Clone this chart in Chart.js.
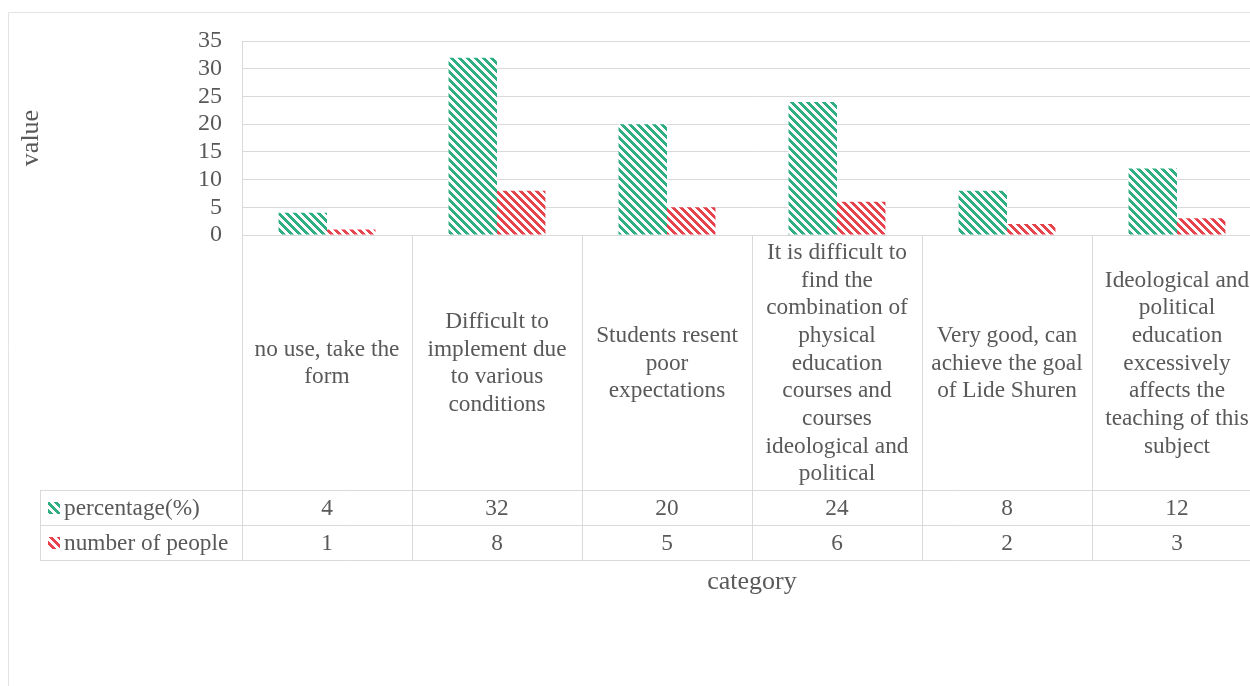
<!DOCTYPE html>
<html>
<head>
<meta charset="utf-8">
<script src="https://cdn.jsdelivr.net/npm/chart.js@4.4.1/dist/chart.umd.min.js"></script>
<style>
html,body{margin:0;padding:0;background:#fff;overflow:hidden;width:1250px;height:686px;}
#c{position:absolute;left:0;top:0;}
</style>
</head>
<body>
<canvas id="c" width="1300" height="686"></canvas>
<script>
const categories = [
  ["no use, take the", "form"],
  ["Difficult to", "implement due", "to various", "conditions"],
  ["Students resent", "poor", "expectations"],
  ["It is difficult to", "find the", "combination of", "physical", "education", "courses and", "courses", "ideological and", "political"],
  ["Very good, can", "achieve the goal", "of Lide Shuren"],
  ["Ideological and", "political", "education", "excessively", "affects the", "teaching of this", "subject"]
];
const seriesNames = ["percentage(%)", "number of people"];
const percentage = [4, 32, 20, 24, 8, 12];
const people = [1, 8, 5, 6, 2, 3];
const yTicks = [0, 5, 10, 15, 20, 25, 30, 35];

const GREEN = '#2fae82';
const RED = '#e6434f';
const TEXT = '#595959';
const LINE = '#d9d9d9';
const FONT = '"Liberation Serif", "Times New Roman", serif';
const BODY_SIZE = 23.3;

function stripePattern(color) {
  const s = 8;
  const cv = document.createElement('canvas');
  cv.width = s; cv.height = s;
  const g = cv.getContext('2d');
  const img = g.createImageData(s, s);
  const r = parseInt(color.slice(1,3),16), gg = parseInt(color.slice(3,5),16), b = parseInt(color.slice(5,7),16);
  for (let y = 0; y < s; y++) for (let x = 0; x < s; x++) {
    const i = (y*s + x)*4;
    const on = (((x - y) % s) + s) % s < 4;
    img.data[i] = on ? r : 255; img.data[i+1] = on ? gg : 255; img.data[i+2] = on ? b : 255; img.data[i+3] = 255;
  }
  g.putImageData(img, 0, 0);
  return document.getElementById('c').getContext('2d').createPattern(cv, 'repeat');
}
const greenPat = stripePattern(GREEN);
const redPat = stripePattern(RED);

const HEADER_BOTTOM = 490, ROW_H = 35, TABLE_LEFT = 40;

const tablePlugin = {
  id: 'dataTable',
  beforeDraw(chart) {
    const ctx = chart.ctx;
    ctx.save();
    ctx.strokeStyle = '#e3e3e3';
    ctx.lineWidth = 1;
    ctx.beginPath();
    ctx.moveTo(8.5, 686); ctx.lineTo(8.5, 12.5); ctx.lineTo(1300, 12.5);
    ctx.stroke();
    ctx.restore();
  },
  afterDraw(chart) {
    const ctx = chart.ctx, xs = chart.scales.x;
    const n = categories.length;
    const w = (xs.right - xs.left) / n;
    const top = xs.top;
    const bottom = HEADER_BOTTOM + ROW_H * 2;
    ctx.save();
    ctx.strokeStyle = LINE;
    ctx.lineWidth = 1;
    ctx.beginPath();
    for (let k = 0; k <= n; k++) {
      const x = Math.round(xs.left + k * w) + 0.5;
      ctx.moveTo(x, top); ctx.lineTo(x, bottom);
    }
    for (let r = 0; r <= 2; r++) {
      const y = HEADER_BOTTOM + r * ROW_H + 0.5;
      ctx.moveTo(TABLE_LEFT, y); ctx.lineTo(xs.right, y);
    }
    ctx.moveTo(TABLE_LEFT + 0.5, HEADER_BOTTOM); ctx.lineTo(TABLE_LEFT + 0.5, bottom);
    ctx.stroke();

    ctx.fillStyle = TEXT;
    ctx.font = BODY_SIZE + 'px ' + FONT;
    ctx.textAlign = 'center';
    ctx.textBaseline = 'middle';
    const lh = 27.7;
    const midH = (top + HEADER_BOTTOM) / 2 + 1;
    categories.forEach((lines, i) => {
      const cx = xs.getPixelForValue(i);
      const y0 = midH - (lines.length - 1) * lh / 2;
      lines.forEach((t, j) => ctx.fillText(t, cx, y0 + j * lh));
    });
    const rows = [percentage, people];
    const pats = [greenPat, redPat];
    rows.forEach((vals, r) => {
      const cy = HEADER_BOTTOM + r * ROW_H + ROW_H / 2 + 1;
      ctx.textAlign = 'center';
      vals.forEach((v, i) => ctx.fillText(String(v), xs.getPixelForValue(i), cy));
      ctx.fillStyle = pats[r];
      ctx.fillRect(48, Math.round(cy) - 7, 12, 12);
      ctx.fillStyle = TEXT;
      ctx.textAlign = 'left';
      ctx.fillText(seriesNames[r], 64, cy);
    });
    ctx.restore();
  }
};

new Chart(document.getElementById('c'), {
  type: 'bar',
  data: {
    labels: categories,
    datasets: [
      { label: seriesNames[0], data: percentage, backgroundColor: greenPat, borderWidth: 0 },
      { label: seriesNames[1], data: people, backgroundColor: redPat, borderWidth: 0 }
    ]
  },
  options: {
    responsive: false,
    animation: false,
    devicePixelRatio: 1,
    layout: { padding: { left: 0, top: 41, right: 38, bottom: 0 } },
    plugins: { legend: { display: false }, tooltip: { enabled: false } },
    datasets: { bar: { categoryPercentage: 0.57, barPercentage: 1.0 } },
    scales: {
      x: {
        grid: { display: false },
        border: { display: true, color: LINE },
        ticks: { display: false },
        title: { display: true, text: 'category', color: TEXT, font: { family: FONT, size: 26 }, padding: { top: 0, bottom: 88 } },
        afterFit(s) { s.height = 451; }
      },
      y: {
        min: 0, max: 35,
        afterBuildTicks(s) { s.ticks = yTicks.map(v => ({ value: v })); },
        grid: { color: LINE, drawTicks: false },
        border: { display: true, color: LINE },
        ticks: { color: TEXT, font: { family: FONT, size: 24 }, padding: 20, autoSkip: false },
        title: { display: true, text: 'value', color: TEXT, font: { family: FONT, size: 26 }, padding: { top: 16, bottom: 0 } },
        afterFit(s) { s.width = 242; }
      }
    }
  },
  plugins: [tablePlugin]
});
</script>
</body>
</html>
